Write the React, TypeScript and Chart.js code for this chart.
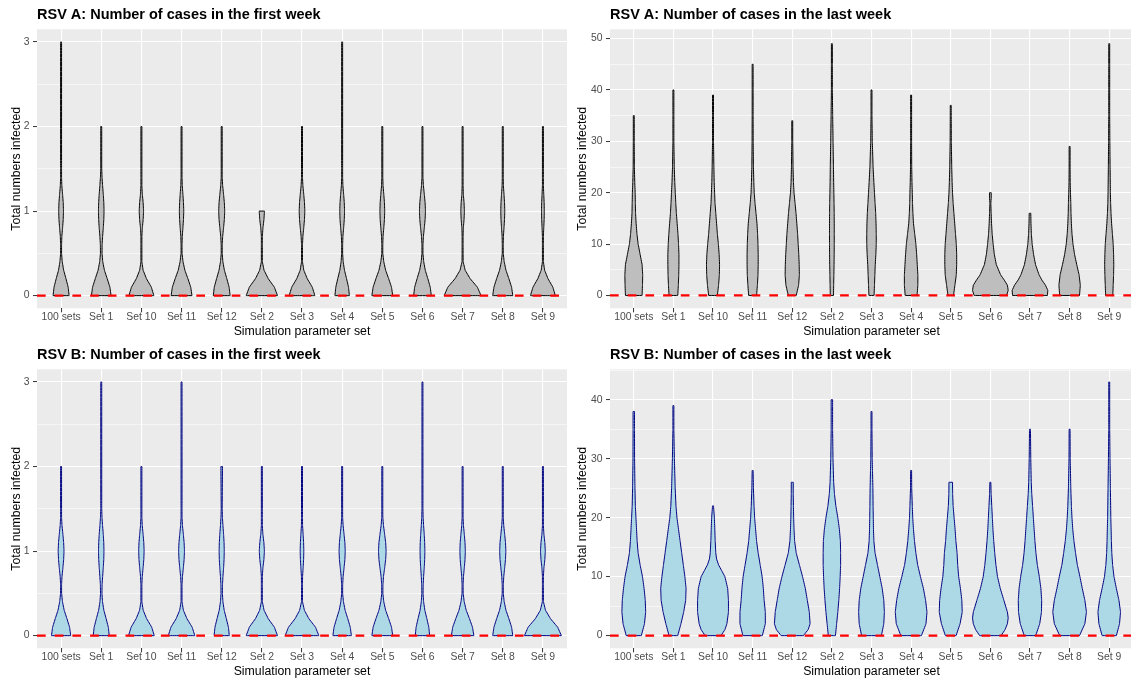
import React, { useEffect, useRef } from 'react';
import { Chart, registerables } from 'chart.js';

Chart.register(...registerables);

const FONT = "'Liberation Sans', Arial, Helvetica, sans-serif";

const CATEGORIES = ['100 sets', 'Set 1', 'Set 10', 'Set 11', 'Set 12', 'Set 2', 'Set 3', 'Set 4', 'Set 5', 'Set 6', 'Set 7', 'Set 8', 'Set 9'];

// y ticks
const FIRST_Y_MAJOR = [0, 1, 2, 3];
const FIRST_Y_MINOR = [0.5, 1.5, 2.5];
const A_LAST_Y_MAJOR = [0, 10, 20, 30, 40, 50];
const A_LAST_Y_MINOR = [5, 15, 25, 35, 45];
const B_LAST_Y_MAJOR = [0, 10, 20, 30, 40];
const B_LAST_Y_MINOR = [5, 15, 25, 35, 45];

// first-week violins: half widths (category units) at shared levels
const FIRST_LEVELS = [0, 0.1, 0.2, 0.3, 0.4, 0.5, 0.6, 0.7, 0.8, 0.9, 1.0, 1.1, 1.2, 1.3, 1.4, 1.5];

const A_FIRST_MAX = [3, 2, 2, 2, 2, 1, 2, 3, 2, 2, 2, 2, 2];
const A_FIRST_TOP = [0.005, 0.005, 0.005, 0.005, 0.005, 0.065, 0.005, 0.005, 0.005, 0.005, 0.005, 0.005, 0.005];
const A_FIRST_WIDTHS = [
  [0.200, 0.176, 0.122, 0.064, 0.029, 0.010, 0.010, 0.019, 0.037, 0.053, 0.060, 0.053, 0.037, 0.019, 0.008, 0.006],
  [0.245, 0.216, 0.149, 0.079, 0.038, 0.020, 0.022, 0.034, 0.051, 0.064, 0.070, 0.064, 0.051, 0.034, 0.020, 0.010],
  [0.310, 0.248, 0.127, 0.043, 0.011, 0.006, 0.006, 0.008, 0.023, 0.044, 0.055, 0.044, 0.023, 0.008, 0.006, 0.006],
  [0.260, 0.229, 0.159, 0.083, 0.037, 0.012, 0.011, 0.018, 0.034, 0.048, 0.055, 0.048, 0.034, 0.018, 0.008, 0.006],
  [0.210, 0.185, 0.128, 0.067, 0.030, 0.011, 0.013, 0.024, 0.046, 0.066, 0.075, 0.066, 0.046, 0.024, 0.011, 0.006],
  [0.390, 0.312, 0.160, 0.055, 0.012, 0.006, 0.006, 0.009, 0.027, 0.052],
  [0.320, 0.256, 0.131, 0.045, 0.010, 0.006, 0.010, 0.022, 0.043, 0.062, 0.070, 0.062, 0.043, 0.022, 0.010, 0.006],
  [0.180, 0.158, 0.110, 0.058, 0.026, 0.010, 0.010, 0.019, 0.037, 0.053, 0.060, 0.053, 0.037, 0.019, 0.008, 0.006],
  [0.260, 0.229, 0.159, 0.083, 0.037, 0.012, 0.011, 0.019, 0.037, 0.053, 0.060, 0.053, 0.037, 0.019, 0.008, 0.006],
  [0.220, 0.194, 0.134, 0.070, 0.032, 0.012, 0.013, 0.024, 0.046, 0.066, 0.075, 0.066, 0.046, 0.024, 0.011, 0.006],
  [0.460, 0.368, 0.189, 0.064, 0.014, 0.006, 0.006, 0.006, 0.018, 0.036, 0.045, 0.036, 0.018, 0.006, 0.006, 0.006],
  [0.250, 0.220, 0.153, 0.080, 0.036, 0.012, 0.010, 0.016, 0.031, 0.044, 0.050, 0.044, 0.031, 0.016, 0.007, 0.006],
  [0.310, 0.248, 0.127, 0.043, 0.010, 0.006, 0.006, 0.011, 0.021, 0.031, 0.035, 0.031, 0.021, 0.011, 0.006, 0.006],
];

const B_FIRST_MAX = [2, 3, 2, 3, 2, 2, 2, 2, 2, 3, 2, 2, 2];
const B_FIRST_TOP = [0.012, 0.005, 0.005, 0.005, 0.02, 0.005, 0.005, 0.005, 0.005, 0.005, 0.005, 0.005, 0.005];
const B_FIRST_WIDTHS = [
  [0.240, 0.211, 0.146, 0.077, 0.035, 0.013, 0.012, 0.023, 0.045, 0.064, 0.073, 0.064, 0.045, 0.023, 0.010, 0.006],
  [0.200, 0.176, 0.122, 0.065, 0.032, 0.018, 0.021, 0.035, 0.050, 0.063, 0.068, 0.063, 0.050, 0.033, 0.019, 0.010],
  [0.320, 0.256, 0.131, 0.045, 0.010, 0.006, 0.010, 0.022, 0.042, 0.060, 0.068, 0.060, 0.042, 0.022, 0.010, 0.006],
  [0.330, 0.264, 0.135, 0.046, 0.010, 0.006, 0.010, 0.023, 0.045, 0.064, 0.073, 0.064, 0.045, 0.023, 0.010, 0.006],
  [0.190, 0.167, 0.116, 0.062, 0.031, 0.017, 0.020, 0.031, 0.047, 0.059, 0.064, 0.059, 0.047, 0.031, 0.018, 0.012],
  [0.390, 0.312, 0.160, 0.055, 0.012, 0.006, 0.006, 0.009, 0.026, 0.051, 0.064, 0.051, 0.026, 0.009, 0.006, 0.006],
  [0.420, 0.336, 0.172, 0.059, 0.013, 0.006, 0.008, 0.014, 0.028, 0.040, 0.045, 0.040, 0.028, 0.014, 0.006, 0.006],
  [0.230, 0.202, 0.140, 0.074, 0.033, 0.012, 0.013, 0.025, 0.047, 0.068, 0.077, 0.068, 0.047, 0.025, 0.011, 0.006],
  [0.260, 0.229, 0.159, 0.083, 0.037, 0.014, 0.016, 0.030, 0.058, 0.084, 0.095, 0.084, 0.058, 0.030, 0.013, 0.006],
  [0.180, 0.158, 0.110, 0.059, 0.029, 0.015, 0.019, 0.029, 0.044, 0.055, 0.060, 0.055, 0.044, 0.029, 0.017, 0.008],
  [0.280, 0.246, 0.171, 0.090, 0.040, 0.014, 0.013, 0.022, 0.042, 0.060, 0.068, 0.060, 0.042, 0.022, 0.010, 0.006],
  [0.250, 0.220, 0.153, 0.080, 0.036, 0.013, 0.014, 0.025, 0.047, 0.068, 0.077, 0.068, 0.047, 0.025, 0.011, 0.006],
  [0.460, 0.368, 0.189, 0.064, 0.014, 0.006, 0.006, 0.008, 0.025, 0.048, 0.060, 0.048, 0.025, 0.008, 0.006, 0.006],
];

// last-week violins: [value, half width] outline pairs
const A_LAST_PROFILES: number[][][] = [
  [[0, 0.21], [2, 0.22], [4, 0.225], [6, 0.21], [8, 0.16], [10, 0.11], [12, 0.08], [14, 0.06], [16, 0.045], [18, 0.04], [20, 0.035], [22, 0.025], [25, 0.015], [30, 0.01], [35, 0.006]],
  [[0, 0.11], [2, 0.125], [4, 0.135], [6, 0.14], [8, 0.14], [10, 0.13], [12, 0.115], [14, 0.095], [16, 0.075], [18, 0.06], [20, 0.048], [22, 0.035], [25, 0.022], [30, 0.01], [35, 0.007], [40, 0.006]],
  [[0, 0.11], [2, 0.14], [4, 0.16], [6, 0.165], [8, 0.155], [10, 0.135], [12, 0.11], [14, 0.09], [16, 0.07], [18, 0.05], [20, 0.04], [22, 0.03], [25, 0.022], [30, 0.012], [35, 0.008], [39, 0.006]],
  [[0, 0.10], [2, 0.12], [4, 0.135], [6, 0.14], [8, 0.14], [10, 0.135], [12, 0.125], [14, 0.11], [16, 0.085], [18, 0.06], [20, 0.04], [22, 0.03], [25, 0.02], [30, 0.014], [35, 0.008], [40, 0.006], [45, 0.006]],
  [[0, 0.10], [2, 0.16], [4, 0.18], [6, 0.175], [8, 0.165], [10, 0.15], [12, 0.135], [14, 0.115], [16, 0.095], [18, 0.07], [20, 0.045], [22, 0.03], [25, 0.02], [30, 0.01], [34, 0.006]],
  [[0, 0.04], [2, 0.045], [4, 0.05], [6, 0.055], [8, 0.058], [10, 0.06], [12, 0.06], [14, 0.06], [16, 0.058], [18, 0.055], [20, 0.05], [22, 0.045], [25, 0.04], [30, 0.03], [35, 0.02], [40, 0.012], [45, 0.008], [49, 0.006]],
  [[0, 0.065], [2, 0.075], [4, 0.085], [6, 0.095], [8, 0.11], [10, 0.12], [12, 0.12], [14, 0.115], [16, 0.105], [18, 0.09], [20, 0.075], [22, 0.06], [25, 0.04], [30, 0.02], [35, 0.01], [40, 0.006]],
  [[0, 0.15], [2, 0.17], [4, 0.17], [6, 0.155], [8, 0.14], [10, 0.12], [12, 0.09], [14, 0.06], [16, 0.045], [18, 0.035], [20, 0.03], [22, 0.022], [25, 0.015], [30, 0.01], [35, 0.007], [39, 0.006]],
  [[0, 0.07], [2, 0.105], [4, 0.14], [6, 0.15], [8, 0.15], [10, 0.14], [12, 0.12], [14, 0.1], [16, 0.08], [18, 0.06], [20, 0.045], [22, 0.035], [25, 0.025], [30, 0.015], [35, 0.008], [37, 0.006]],
  [[0, 0.41], [1, 0.45], [2, 0.43], [3, 0.35], [4, 0.26], [6, 0.15], [8, 0.10], [10, 0.07], [12, 0.045], [14, 0.03], [16, 0.02], [18, 0.012], [19, 0.022], [20, 0.022]],
  [[0, 0.44], [1, 0.45], [2, 0.39], [3, 0.30], [4, 0.23], [6, 0.14], [8, 0.09], [10, 0.055], [12, 0.035], [14, 0.025], [16, 0.02]],
  [[0, 0.25], [2, 0.27], [4, 0.24], [6, 0.18], [8, 0.125], [10, 0.085], [12, 0.06], [14, 0.045], [16, 0.035], [18, 0.03], [20, 0.022], [22, 0.015], [25, 0.01], [29, 0.006]],
  [[0, 0.09], [2, 0.1], [4, 0.11], [6, 0.115], [8, 0.11], [10, 0.1], [12, 0.08], [14, 0.06], [16, 0.045], [18, 0.035], [20, 0.03], [25, 0.022], [30, 0.016], [35, 0.012], [40, 0.008], [45, 0.006], [49, 0.006]],
];

const B_LAST_PROFILES: number[][][] = [
  [[0, 0.19], [2, 0.27], [4, 0.30], [6, 0.29], [8, 0.26], [10, 0.22], [12, 0.16], [14, 0.11], [16, 0.085], [18, 0.07], [20, 0.055], [22, 0.04], [25, 0.03], [30, 0.02], [35, 0.018], [38, 0.018]],
  [[0, 0.11], [2, 0.19], [4, 0.26], [6, 0.31], [8, 0.32], [10, 0.29], [12, 0.25], [14, 0.21], [16, 0.17], [18, 0.13], [20, 0.09], [22, 0.065], [25, 0.045], [30, 0.025], [35, 0.012], [39, 0.006]],
  [[0, 0.20], [1, 0.30], [2, 0.35], [4, 0.39], [6, 0.39], [8, 0.37], [10, 0.30], [11, 0.22], [12, 0.14], [13, 0.09], [14, 0.07], [16, 0.055], [18, 0.045], [20, 0.035], [22, 0.006]],
  [[0, 0.245], [2, 0.32], [4, 0.32], [6, 0.29], [8, 0.27], [10, 0.24], [12, 0.19], [14, 0.14], [16, 0.10], [18, 0.075], [20, 0.05], [22, 0.035], [25, 0.02], [28, 0.006]],
  [[0, 0.28], [1, 0.40], [2, 0.45], [4, 0.43], [6, 0.38], [8, 0.33], [10, 0.26], [12, 0.18], [14, 0.10], [16, 0.06], [18, 0.045], [20, 0.035], [22, 0.03], [24, 0.025], [26, 0.025]],
  [[0, 0.09], [2, 0.12], [4, 0.15], [6, 0.175], [8, 0.195], [10, 0.21], [12, 0.22], [14, 0.22], [16, 0.215], [18, 0.19], [20, 0.15], [22, 0.10], [24, 0.065], [26, 0.045], [30, 0.028], [35, 0.018], [40, 0.018]],
  [[0, 0.25], [2, 0.31], [4, 0.325], [6, 0.31], [8, 0.27], [10, 0.21], [12, 0.15], [14, 0.09], [16, 0.06], [18, 0.05], [20, 0.045], [22, 0.04], [25, 0.035], [28, 0.025], [30, 0.018], [35, 0.01], [38, 0.006]],
  [[0, 0.26], [2, 0.375], [4, 0.40], [6, 0.365], [8, 0.31], [10, 0.235], [12, 0.165], [14, 0.12], [16, 0.085], [18, 0.06], [20, 0.04], [22, 0.03], [25, 0.015], [28, 0.006]],
  [[0, 0.135], [2, 0.235], [4, 0.29], [6, 0.28], [8, 0.245], [10, 0.20], [12, 0.175], [14, 0.16], [16, 0.13], [18, 0.11], [20, 0.085], [22, 0.06], [24, 0.048], [26, 0.045]],
  [[0, 0.27], [1, 0.37], [2, 0.43], [3, 0.45], [4, 0.43], [6, 0.34], [8, 0.25], [10, 0.18], [12, 0.14], [14, 0.11], [16, 0.085], [18, 0.065], [20, 0.05], [22, 0.035], [24, 0.02], [26, 0.006]],
  [[0, 0.145], [2, 0.245], [4, 0.29], [6, 0.295], [8, 0.275], [10, 0.235], [12, 0.185], [14, 0.15], [16, 0.125], [18, 0.105], [20, 0.085], [22, 0.065], [24, 0.045], [26, 0.032], [30, 0.02], [35, 0.012]],
  [[0, 0.25], [2, 0.385], [4, 0.425], [6, 0.385], [8, 0.32], [10, 0.26], [12, 0.195], [14, 0.15], [16, 0.11], [18, 0.08], [20, 0.06], [22, 0.045], [25, 0.03], [30, 0.015], [35, 0.006]],
  [[0, 0.18], [2, 0.26], [4, 0.285], [6, 0.245], [8, 0.18], [10, 0.12], [12, 0.085], [14, 0.065], [16, 0.055], [18, 0.048], [20, 0.04], [25, 0.03], [30, 0.02], [35, 0.012], [40, 0.008], [43, 0.006]],
];

// drawing style: thinnest visible half width of a violin outline (category units)
const MIN_HALF_WIDTH = 0.012;

function firstWeekProfiles(widths: number[][], maxes: number[], tops: number[]): number[][][] {
  return widths.map((w, i) => {
    const prof: number[][] = [];
    FIRST_LEVELS.forEach((lv, k) => {
      if (lv < maxes[i] && k < w.length) prof.push([lv, w[k]]);
    });
    prof.push([maxes[i], tops[i]]);
    return prof;
  });
}

function outline(center: number, profile: number[][]) {
  const hw = (w: number) => Math.max(w, MIN_HALF_WIDTH);
  const right = profile.map(([y, w]) => ({ x: center + hw(w), y }));
  const left = [...profile].reverse().map(([y, w]) => ({ x: center - hw(w), y }));
  return [...right, ...left, right[0]];
}

type Spec = {
  title: string;
  left: number;
  top: number;
  w: number;
  h: number;
  yAxisWidth: number;
  yTitlePad: number;
  padRight: number;
  xAxisHeight: number;
  xTitlePadBottom: number;
  yMin: number;
  yMax: number;
  yMajor: number[];
  yMinor: number[];
  profiles: number[][][];
  fill: string;
  stroke: string;
};

const panelBackground = {
  id: 'panelBackground',
  beforeDraw(chart: any) {
    const { ctx, chartArea: a } = chart;
    ctx.save();
    ctx.fillStyle = '#EBEBEB';
    ctx.fillRect(a.left, a.top, a.right - a.left, a.bottom - a.top);
    ctx.restore();
  },
};

function buildConfig(s: Spec): any {
  const datasets: any[] = [
    {
      type: 'line',
      data: [{ x: -0.6, y: 0 }, { x: CATEGORIES.length - 0.4, y: 0 }],
      borderColor: '#FF0000',
      borderWidth: 2.2,
      borderDash: [8.7, 9],
      pointRadius: 0,
      fill: false,
      order: 0,
    },
  ];
  s.profiles.forEach((p, i) => {
    datasets.push({
      type: 'line',
      data: outline(i, p),
      borderColor: s.stroke,
      backgroundColor: s.fill,
      borderWidth: 1,
      borderJoinStyle: 'round',
      pointRadius: 0,
      tension: 0.000001,
      fill: 'shape',
      order: 1,
    });
  });
  const yTicks = [...s.yMajor, ...s.yMinor].sort((a, b) => a - b);
  const isMajor = (v: number) => s.yMajor.includes(v);
  return {
    type: 'line',
    data: { datasets },
    plugins: [panelBackground],
    options: {
      animation: false,
      responsive: false,
      devicePixelRatio: 1,
      events: [],
      layout: { padding: { left: 0, right: s.padRight, top: 0, bottom: 0 } },
      plugins: {
        legend: { display: false },
        tooltip: { enabled: false },
        title: {
          display: true,
          text: s.title,
          align: 'start',
          fullSize: false,
          color: '#000000',
          font: { family: FONT, size: 14.5, weight: 'bold', lineHeight: 1.2 },
          padding: { top: 6.3, bottom: 5.6 },
        },
      },
      scales: {
        x: {
          type: 'linear',
          min: -0.6,
          max: CATEGORIES.length - 0.4,
          afterBuildTicks: (scale: any) => {
            scale.ticks = CATEGORIES.map((_, i) => ({ value: i }));
          },
          afterFit: (scale: any) => {
            scale.height = s.xAxisHeight;
          },
          border: { display: false },
          grid: {
            color: '#FFFFFF',
            lineWidth: 1.1,
            tickLength: 4,
            tickColor: '#333333',
            tickWidth: 1,
          },
          ticks: {
            autoSkip: false,
            maxRotation: 0,
            minRotation: 0,
            padding: -1,
            color: '#4D4D4D',
            font: { family: FONT, size: 10.4, lineHeight: 1.2 },
            callback: (v: number) => CATEGORIES[Math.round(v)] ?? '',
          },
          title: {
            display: true,
            text: 'Simulation parameter set',
            color: '#000000',
            font: { family: FONT, size: 12.3, lineHeight: 1.2 },
            padding: { top: 0, bottom: s.xTitlePadBottom },
          },
        },
        y: {
          type: 'linear',
          min: s.yMin,
          max: s.yMax,
          afterBuildTicks: (scale: any) => {
            scale.ticks = yTicks.map((v) => ({ value: v }));
          },
          afterFit: (scale: any) => {
            scale.width = s.yAxisWidth;
          },
          border: { display: false },
          grid: {
            color: '#FFFFFF',
            lineWidth: (ctx: any) => (ctx.tick && isMajor(ctx.tick.value) ? 1.1 : 0.55),
            tickLength: 4,
            tickColor: (ctx: any) => (ctx.tick && isMajor(ctx.tick.value) ? '#333333' : 'rgba(0,0,0,0)'),
            tickWidth: 1,
          },
          ticks: {
            padding: 3.5,
            color: '#4D4D4D',
            font: { family: FONT, size: 10.4, lineHeight: 1.2 },
            callback: (v: number) => (isMajor(v) ? String(v) : ''),
          },
          title: {
            display: true,
            text: 'Total numbers infected',
            color: '#000000',
            font: { family: FONT, size: 12.3, lineHeight: 1.2 },
            padding: { top: s.yTitlePad, bottom: 0 },
          },
        },
      },
    },
  };
}

const SPECS: Spec[] = [
  {
    title: 'RSV A: Number of cases in the first week',
    left: 0, top: 0, w: 570, h: 340, yAxisWidth: 37, yTitlePad: 9.0, padRight: 3,
    xAxisHeight: 31.7, xTitlePadBottom: 0.9,
    yMin: -0.15, yMax: 3.15, yMajor: FIRST_Y_MAJOR, yMinor: FIRST_Y_MINOR,
    profiles: firstWeekProfiles(A_FIRST_WIDTHS, A_FIRST_MAX, A_FIRST_TOP),
    fill: '#BEBEBE', stroke: '#000000',
  },
  {
    title: 'RSV A: Number of cases in the last week',
    left: 570, top: 0, w: 563, h: 340, yAxisWidth: 40, yTitlePad: 5.6, padRight: 0,
    xAxisHeight: 31.7, xTitlePadBottom: 0.9,
    yMin: -2.5, yMax: 51.8, yMajor: A_LAST_Y_MAJOR, yMinor: A_LAST_Y_MINOR,
    profiles: A_LAST_PROFILES,
    fill: '#BEBEBE', stroke: '#000000',
  },
  {
    title: 'RSV B: Number of cases in the first week',
    left: 0, top: 340, w: 570, h: 341, yAxisWidth: 37, yTitlePad: 9.0, padRight: 3,
    xAxisHeight: 32.7, xTitlePadBottom: 1.9,
    yMin: -0.15, yMax: 3.15, yMajor: FIRST_Y_MAJOR, yMinor: FIRST_Y_MINOR,
    profiles: firstWeekProfiles(B_FIRST_WIDTHS, B_FIRST_MAX, B_FIRST_TOP),
    fill: '#ADD8E6', stroke: '#000080',
  },
  {
    title: 'RSV B: Number of cases in the last week',
    left: 570, top: 340, w: 563, h: 341, yAxisWidth: 40, yTitlePad: 5.6, padRight: 0,
    xAxisHeight: 32.7, xTitlePadBottom: 1.9,
    yMin: -2.15, yMax: 45.15, yMajor: B_LAST_Y_MAJOR, yMinor: B_LAST_Y_MINOR,
    profiles: B_LAST_PROFILES,
    fill: '#ADD8E6', stroke: '#000080',
  },
];

function Panel({ spec }: { spec: Spec }) {
  const ref = useRef<HTMLCanvasElement>(null);
  useEffect(() => {
    if (!ref.current) return;
    const chart = new Chart(ref.current, buildConfig(spec));
    return () => chart.destroy();
  }, [spec]);
  return (
    <canvas
      ref={ref}
      width={spec.w}
      height={spec.h}
      style={{ position: 'absolute', left: spec.left, top: spec.top, width: spec.w, height: spec.h }}
    />
  );
}

export default function App() {
  return (
    <div
      style={{
        position: 'absolute',
        left: 0,
        top: 0,
        width: 1131,
        height: 681,
        overflow: 'hidden',
        background: '#FFFFFF',
      }}
    >
      {SPECS.map((s, i) => (
        <Panel key={i} spec={s} />
      ))}
    </div>
  );
}
